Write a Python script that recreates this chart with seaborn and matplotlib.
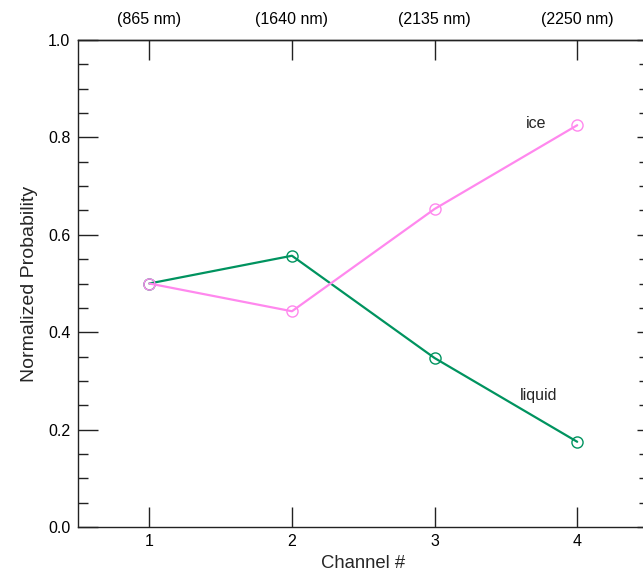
import matplotlib
matplotlib.use("Agg")
import matplotlib.pyplot as plt
from matplotlib.ticker import MultipleLocator, FixedLocator
import seaborn as sns
import pandas as pd

channels = [1, 2, 3, 4]
wavelengths = ["(865 nm)", "(1640 nm)", "(2135 nm)", "(2250 nm)"]
liquid = [0.500, 0.557, 0.347, 0.175]
ice = [0.500, 0.443, 0.653, 0.825]
phases = ["liquid", "ice"]
colors = {"liquid": "#00935f", "ice": "#ff88ee"}

df = pd.DataFrame({
    "Channel": channels * 2,
    "Prob": liquid + ice,
    "Phase": ["liquid"] * 4 + ["ice"] * 4,
})

sns.set_theme(style="ticks")
plt.rcParams["font.family"] = ["Liberation Sans", "DejaVu Sans"]
plt.rcParams["font.size"] = 11.5

fig = plt.figure(figsize=(6.43, 5.75), dpi=100)
ax = fig.add_axes([78 / 643, 48 / 575, (648.5 - 78) / 643, (527 - 40) / 575])

sns.lineplot(data=df, x="Channel", y="Prob", hue="Phase", hue_order=phases,
             palette=colors, marker="o", markersize=8, markerfacecolor="none",
             markeredgewidth=1.0, linewidth=1.6, legend=False, ax=ax)
for line, ph in zip(ax.lines, phases):
    line.set_markeredgecolor(colors[ph])

ax.set_xlim(0.5, 4.5)
ax.set_ylim(0.0, 1.0)
ax.xaxis.set_major_locator(FixedLocator(channels))
ax.set_xticklabels([str(c) for c in channels])
ax.yaxis.set_major_locator(MultipleLocator(0.2))
ax.yaxis.set_minor_locator(MultipleLocator(0.05))
ax.yaxis.set_major_formatter(matplotlib.ticker.FormatStrFormatter("%.1f"))

for s in ax.spines.values():
    s.set_linewidth(1.0)
    s.set_color("#222222")
ax.spines["right"].set_visible(False)

ax.tick_params(axis="x", which="major", direction="in", length=14.5, width=1.0,
               bottom=True, top=False, pad=5, labelsize=11.5, colors="#222222")
ax.tick_params(axis="y", which="major", direction="in", length=14.5, width=1.0,
               left=True, right=False, pad=5.5, labelsize=11.5, colors="#222222")
ax.tick_params(axis="y", which="minor", direction="in", length=7.5, width=1.0,
               left=True, right=False, colors="#222222")
ax.tick_params(labelcolor="black")

top = ax.secondary_xaxis("top")
top.xaxis.set_major_locator(FixedLocator(channels))
top.set_xticklabels(wavelengths)
top.tick_params(direction="in", length=14.5, width=1.0, pad=9, labelsize=11.5,
                colors="#222222", labelcolor="black")
top.spines["top"].set_linewidth(1.0)

right = ax.secondary_yaxis("right")
right.yaxis.set_major_locator(MultipleLocator(0.2))
right.yaxis.set_minor_locator(MultipleLocator(0.05))
right.tick_params(which="major", direction="in", length=8.5, width=1.0,
                  labelright=False, colors="#222222")
right.tick_params(which="minor", direction="in", length=7.5, width=1.0,
                  labelright=False, colors="#222222")

ax.text(3.71, 0.828, "ice", fontsize=11.5, ha="center", va="center")
ax.text(3.73, 0.269, "liquid", fontsize=11.5, ha="center", va="center")

ax.set_xlabel("Channel #", fontsize=13.3, labelpad=4.5)
ax.set_ylabel("Normalized Probability", fontsize=14, labelpad=7)

fig.savefig("out.png", dpi=100)
